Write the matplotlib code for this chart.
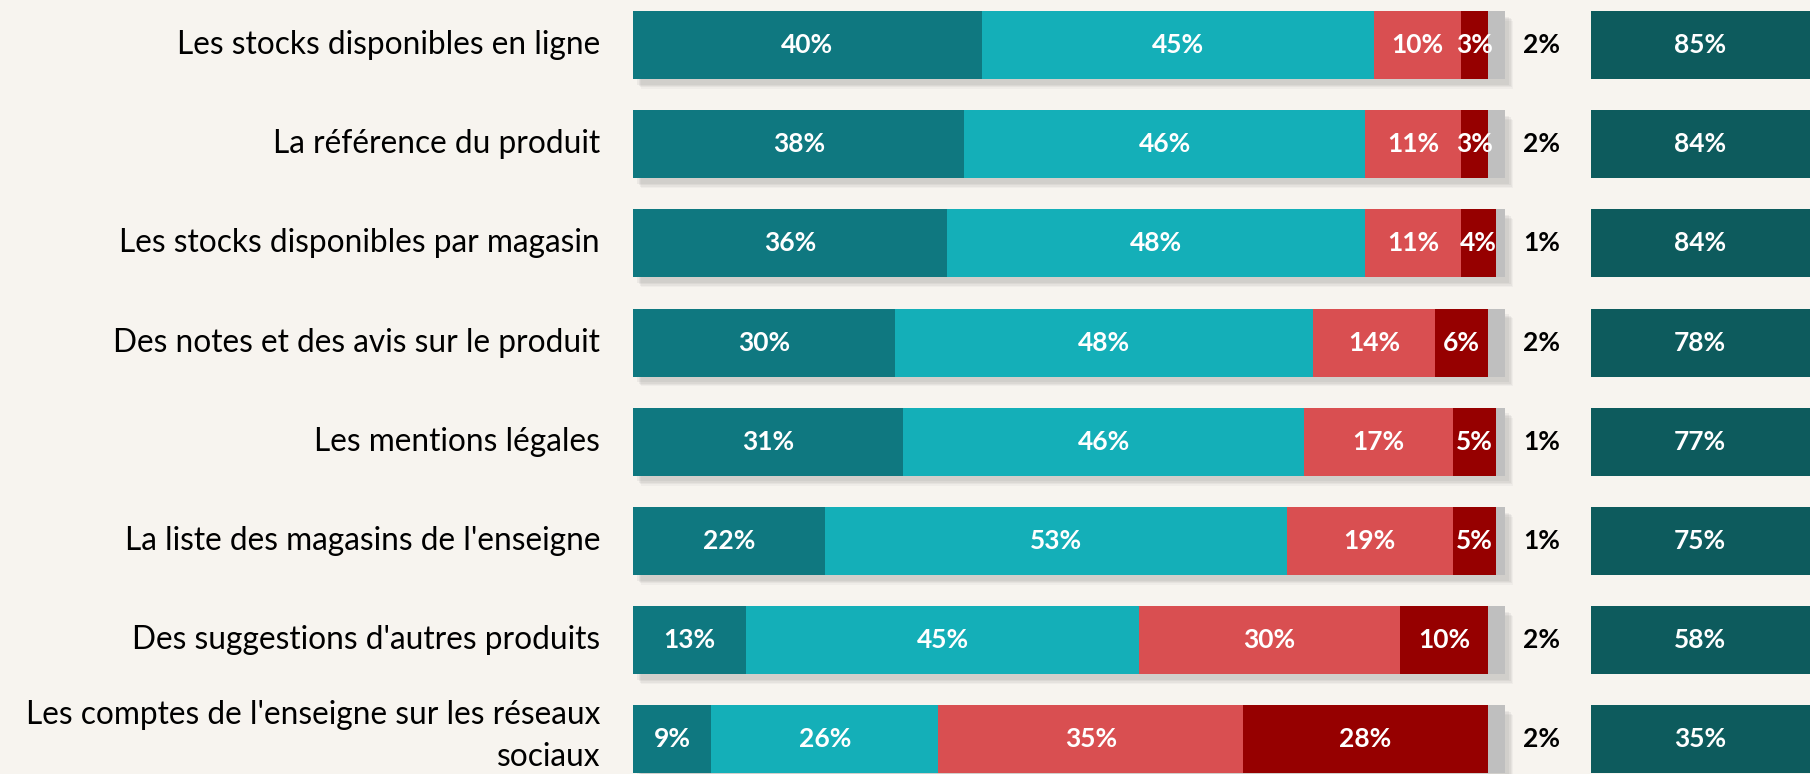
import matplotlib
matplotlib.use("Agg")
import matplotlib.pyplot as plt
import matplotlib.patheffects as pe
import numpy as np

# ---------------- data ----------------
categories = [
    "Les stocks disponibles en ligne",
    "La référence du produit",
    "Les stocks disponibles par magasin",
    "Des notes et des avis sur le produit",
    "Les mentions légales",
    "La liste des magasins de l'enseigne",
    "Des suggestions d'autres produits",
    "Les comptes de l'enseigne sur les réseaux\nsociaux",
]
very_important = [40, 38, 36, 30, 31, 22, 13, 9]
important = [45, 46, 48, 48, 46, 53, 45, 26]
not_very_important = [10, 11, 11, 14, 17, 19, 30, 35]
not_important = [3, 3, 4, 6, 5, 5, 10, 28]
no_answer = [2, 2, 1, 2, 1, 1, 2, 2]
total_important = [85, 84, 84, 78, 77, 75, 58, 35]

series = [very_important, important, not_very_important, not_important, no_answer]
colors = ["#0F7880", "#14AFB8", "#D94F51", "#960000", "#BFBFBF"]
label_series = [True, True, True, True, False]

BG = "#F7F4EF"
BOX = "#0D5B5D"

plt.rcParams['font.family'] = ['Lato', 'DejaVu Sans']

W, H = 1810, 774
fig = plt.figure(figsize=(W / 100, H / 100), dpi=100, facecolor=BG)
ax = fig.add_axes([0, 0, 1, 1], facecolor=BG)

# layout: 100% bar spans pixel 633 -> 1505
px0, px100 = 633, 1505
ppp = (px100 - px0) / 100.0
row0, pitch = 45.0, 99.2
ax.set_xlim(-px0 / ppp, (W - px0) / ppp)
ax.set_ylim((H - row0) / pitch, -row0 / pitch)
ax.axis("off")

def xpx(p):
    return (p - px0) / ppp

def ypx(p):
    return (p - row0) / pitch

n = len(categories)
y = np.arange(n)
bh = 68 / pitch

totals = np.sum(np.array(series), axis=0)
# soft shadow under full bar
shadow = [pe.SimplePatchShadow(offset=(o, -o - 1), shadow_rgbFace="#666666", alpha=a)
          for o, a in [(6, 0.05), (5, 0.07), (4, 0.08), (3, 0.08)]]
ax.barh(y, totals, height=bh, color=colors[-1], zorder=1,
        path_effects=shadow + [pe.Normal()])

NUM_FS = 19
left = np.zeros(n)
for vals, col, lab in zip(series, colors, label_series):
    vals = np.array(vals, dtype=float)
    ax.barh(y, vals, left=left, height=bh, color=col, zorder=2, linewidth=0)
    if lab:
        for yi, l, v in zip(y, left, vals):
            ax.text(l + v / 2, yi, f"{int(v)}%", ha="center", va="center",
                    color="white", fontsize=NUM_FS, fontweight="bold", zorder=3)
    left += vals

# no-answer labels
for yi, v in zip(y, no_answer):
    ax.text(xpx(1542), yi, f"{v}%", ha="center", va="center", color="black",
            fontsize=NUM_FS, fontweight="bold", zorder=3)

# right boxes (total important)
box_left = xpx(1591)
ax.barh(y, [xpx(W + 20) - box_left] * n, left=box_left, height=bh, color=BOX, zorder=2)
for yi, v in zip(y, total_important):
    ax.text(xpx(1700), yi, f"{v}%", ha="center", va="center", color="white",
            fontsize=NUM_FS, fontweight="bold", zorder=3)

# category labels
for yi, c in zip(y, categories):
    if "\n" in c:
        ax.text(xpx(600), ypx(772), c, ha="right", va="bottom", color="black",
                fontsize=22.8, linespacing=1.5, zorder=3)
    else:
        ax.text(xpx(600), yi, c, ha="right", va="center", color="black",
                fontsize=22.8, zorder=3)

fig.savefig("out.png", dpi=100, facecolor=BG)
